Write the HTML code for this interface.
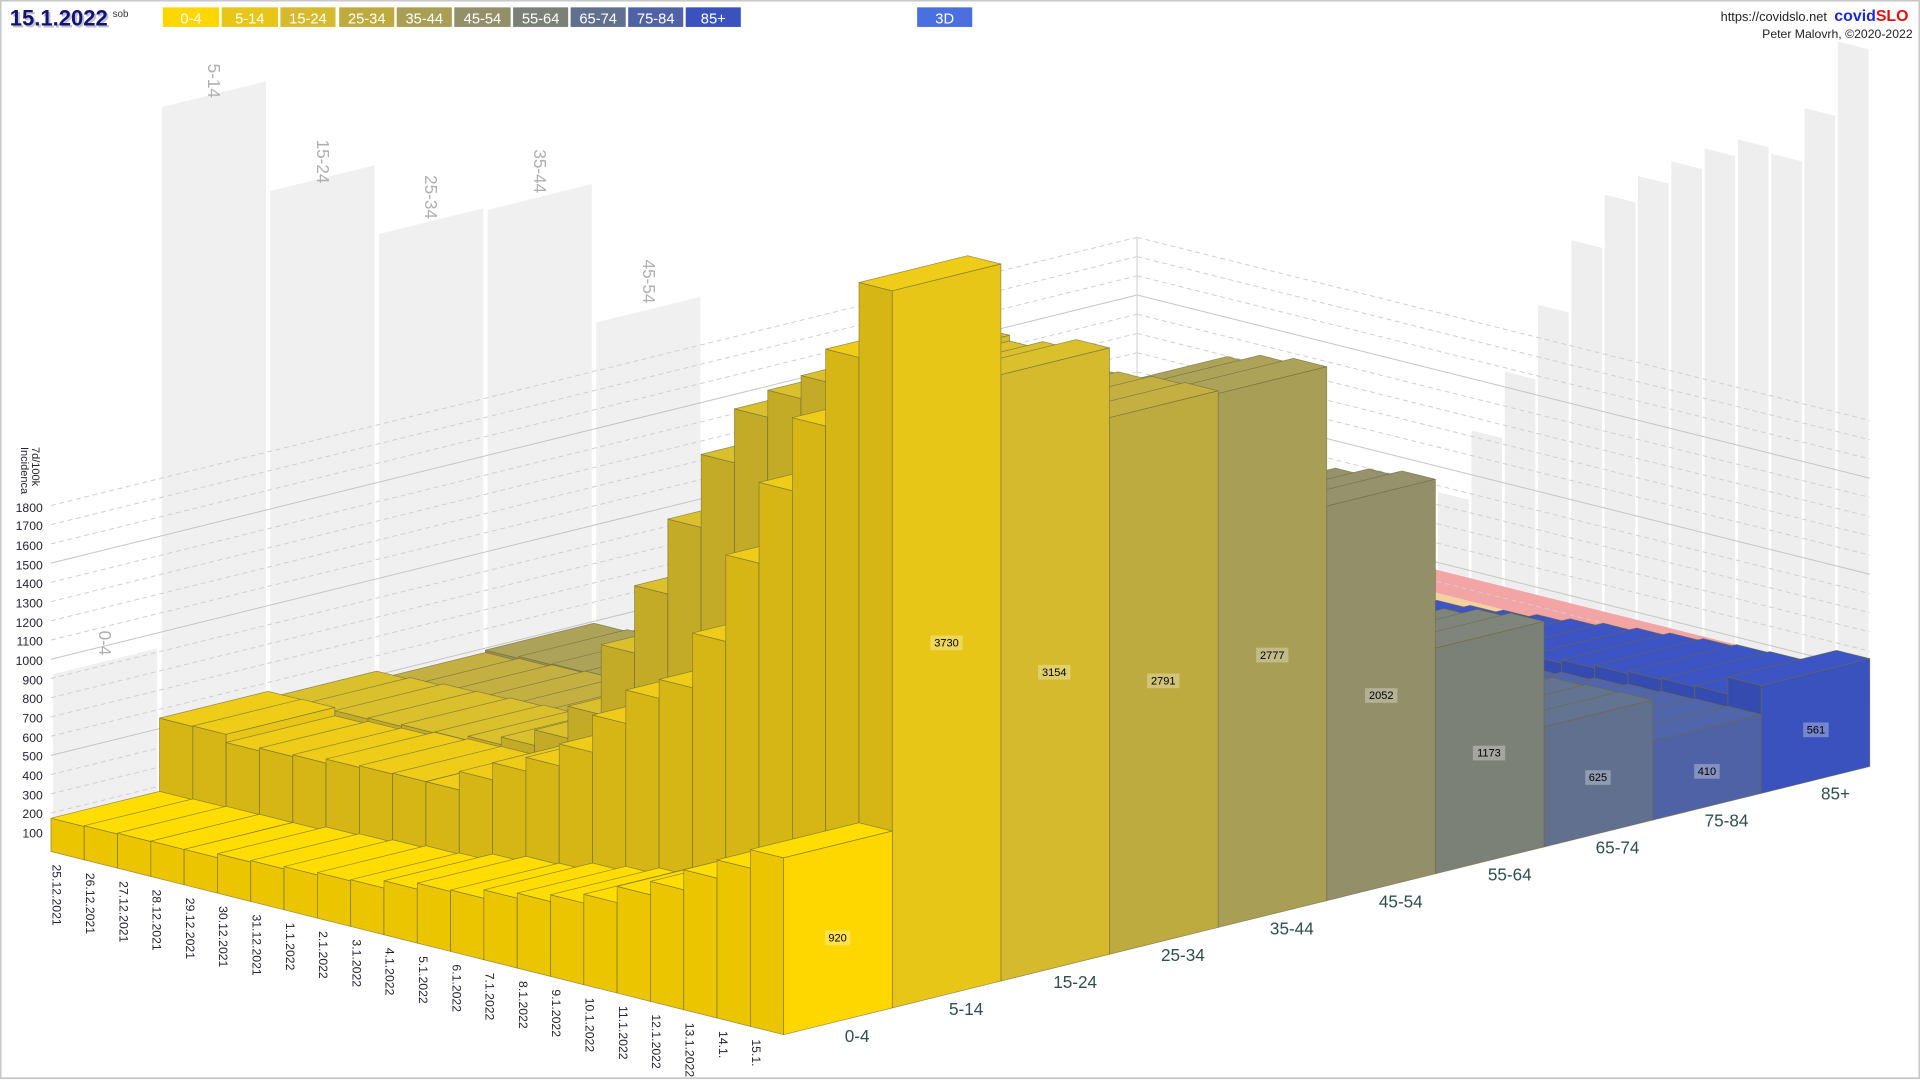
<!DOCTYPE html>
<html><head><meta charset="utf-8"><style>
html,body{margin:0;padding:0;background:#fff;}
svg{display:block;}
text{font-family:"Liberation Sans",sans-serif;}
</style></head><body>
<svg id="s" width="1920" height="1080" viewBox="0 0 1568 882" preserveAspectRatio="none" xmlns="http://www.w3.org/2000/svg">
<rect x="0.5" y="0.5" width="1567" height="880" fill="#fff" stroke="#c8c8c8" stroke-width="1.5"/>
<g id="walls"></g>
<g id="grid"></g>
<g id="bars"></g>
<g id="vals" font-size="9" text-anchor="middle"></g>
<!-- header -->
<text x="8" y="21" font-size="18" font-weight="bold" fill="#c0c0d0" transform="translate(1.5,1.5)">15.1.2022</text>
<text x="8" y="21" font-size="18" font-weight="bold" fill="#141470">15.1.2022</text>
<text x="92" y="14" font-size="8" fill="#333">sob</text>
<g font-size="12" fill="#fff" text-anchor="middle">
<rect x="133" y="6" width="46" height="16" fill="#FFD700"/><text x="156" y="19">0-4</text>
<rect x="181" y="6" width="46" height="16" fill="#E8C617"/><text x="204" y="19">5-14</text>
<rect x="229" y="6" width="45" height="16" fill="#D4BA2C"/><text x="251.5" y="19">15-24</text>
<rect x="277" y="6" width="45" height="16" fill="#BEAB40"/><text x="299.5" y="19">25-34</text>
<rect x="324" y="6" width="45" height="16" fill="#A89E55"/><text x="346.5" y="19">35-44</text>
<rect x="371" y="6" width="46" height="16" fill="#928F69"/><text x="394" y="19">45-54</text>
<rect x="419" y="6" width="45" height="16" fill="#7C8178"/><text x="441.5" y="19">55-64</text>
<rect x="466" y="6" width="45" height="16" fill="#60708E"/><text x="488.5" y="19">65-74</text>
<rect x="513" y="6" width="45" height="16" fill="#4F62A6"/><text x="535.5" y="19">75-84</text>
<rect x="560" y="6" width="45" height="16" fill="#3A52BE"/><text x="582.5" y="19">85+</text>
<rect x="749" y="6" width="45" height="16" fill="#4A6FE0"/><text x="771.5" y="19">3D</text>
</g>
<text x="1492" y="17" font-size="10.5" fill="#222" text-anchor="end">https://covidslo.net</text>
<text x="1498" y="17" font-size="13" font-weight="bold" fill="#1a2ad0">covid<tspan fill="#e01010">SLO</tspan></text>
<text x="1562" y="31" font-size="10" fill="#222" text-anchor="end">Peter Malovrh, ©2020-2022</text>
<!-- y axis -->
<g font-size="10" fill="#223" text-anchor="end">
<text x="35" y="684">100</text><text x="35" y="668">200</text><text x="35" y="653">300</text><text x="35" y="637">400</text><text x="35" y="621">500</text><text x="35" y="606">600</text><text x="35" y="590">700</text><text x="35" y="574">800</text><text x="35" y="559">900</text><text x="35" y="543">1000</text><text x="35" y="527">1100</text><text x="35" y="512">1200</text><text x="35" y="496">1300</text><text x="35" y="480">1400</text><text x="35" y="465">1500</text><text x="35" y="449">1600</text><text x="35" y="433">1700</text><text x="35" y="418">1800</text>
</g>
<text font-size="9" fill="#223" transform="translate(26,365) rotate(90)">7d/100k</text>
<text font-size="9" fill="#223" transform="translate(17,365) rotate(90)">Incidenca</text>
<!-- back wall labels -->
<g font-size="14" fill="#b0b0b0">
<text transform="translate(81,515) rotate(90)">0-4</text>
<text transform="translate(170,52) rotate(90)">5-14</text>
<text transform="translate(259,114) rotate(90)">15-24</text>
<text transform="translate(347,143) rotate(90)">25-34</text>
<text transform="translate(436,122) rotate(90)">35-44</text>
<text transform="translate(525,212) rotate(90)">45-54</text>
</g>
<!-- date labels -->
<g font-size="10" fill="#223">
<text transform="translate(43,706) rotate(90)">25.12.2021</text>
<text transform="translate(70.2,712.8) rotate(90)">26.12.2021</text>
<text transform="translate(97.4,719.6) rotate(90)">27.12.2021</text>
<text transform="translate(124.6,726.4) rotate(90)">28.12.2021</text>
<text transform="translate(151.8,733.2) rotate(90)">29.12.2021</text>
<text transform="translate(179,740) rotate(90)">30.12.2021</text>
<text transform="translate(206.2,746.8) rotate(90)">31.12.2021</text>
<text transform="translate(233.4,753.6) rotate(90)">1.1.2022</text>
<text transform="translate(260.6,760.4) rotate(90)">2.1.2022</text>
<text transform="translate(287.8,767.2) rotate(90)">3.1.2022</text>
<text transform="translate(315,774) rotate(90)">4.1.2022</text>
<text transform="translate(342.2,780.8) rotate(90)">5.1.2022</text>
<text transform="translate(369.4,787.6) rotate(90)">6.1.2022</text>
<text transform="translate(396.6,794.4) rotate(90)">7.1.2022</text>
<text transform="translate(423.8,801.2) rotate(90)">8.1.2022</text>
<text transform="translate(451,808) rotate(90)">9.1.2022</text>
<text transform="translate(478.2,814.8) rotate(90)">10.1.2022</text>
<text transform="translate(505.4,821.6) rotate(90)">11.1.2022</text>
<text transform="translate(532.6,828.4) rotate(90)">12.1.2022</text>
<text transform="translate(559.8,835.2) rotate(90)">13.1.2022</text>
<text transform="translate(587,842) rotate(90)">14.1.</text>
<text transform="translate(614.2,848.8) rotate(90)">15.1.</text>
</g>
<!-- age labels -->
<g font-size="14" fill="#2F4F4F" text-anchor="middle">
<text x="700" y="851">0-4</text>
<text x="789" y="829">5-14</text>
<text x="878" y="807">15-24</text>
<text x="966" y="785">25-34</text>
<text x="1055" y="763">35-44</text>
<text x="1144" y="741">45-54</text>
<text x="1233" y="719">55-64</text>
<text x="1321" y="697">65-74</text>
<text x="1410" y="675">75-84</text>
<text x="1499" y="653">85+</text>
</g>
<script>
(function(){
var NS="http://www.w3.org/2000/svg";
function P(a,d,v){return [640+88.7*a-27.2*d, 845-21.9*a-6.8*d-0.157*v];}
function poly(g,pts,fill,stroke,sw,op){var p=document.createElementNS(NS,"polygon");p.setAttribute("points",pts.map(function(q){return q[0].toFixed(1)+","+q[1].toFixed(1)}).join(" "));p.setAttribute("fill",fill);if(stroke){p.setAttribute("stroke",stroke);p.setAttribute("stroke-width",sw||0.6);p.setAttribute("stroke-linejoin","round");}else p.setAttribute("stroke","none");if(op)p.setAttribute("fill-opacity",op);g.appendChild(p);}
function line(g,a,b,col,dash,w){var l=document.createElementNS(NS,"line");l.setAttribute("x1",a[0]);l.setAttribute("y1",a[1]);l.setAttribute("x2",b[0]);l.setAttribute("y2",b[1]);l.setAttribute("stroke",col);l.setAttribute("stroke-width",w||0.8);if(dash)l.setAttribute("stroke-dasharray",dash);g.appendChild(l);}
function shade(h,f){var r=parseInt(h.substr(1,2),16),g=parseInt(h.substr(3,2),16),b=parseInt(h.substr(5,2),16);function c(x){x=Math.round(x*f);return Math.max(0,Math.min(255,x));}return "rgb("+c(r)+","+c(g)+","+c(b)+")";}
var cols=["#FFD700","#E8C617","#D4BA2C","#BEAB40","#A89E55","#928F69","#7C8178","#60708E","#4F62A6","#3A52BE"];
var V=[];
V[0]=[173,178,182,184,185,205,213,225,237,243,281,312,320,364,390,425,471,555,624,728,823,920];
V[1]=[554,557,514,528,537,558,567,571,571,667,756,827,940,1134,1307,1406,1690,2140,2560,2940,3340,3730];
V[2]=[520,530,540,545,554,560,580,620,700,866,1230,1580,1970,2350,2630,2770,2890,3000,3090,3060,3100,3154];
V[3]=[477,490,500,510,520,530,560,600,680,820,1100,1400,1700,2000,2250,2450,2600,2700,2750,2760,2780,2791];
V[4]=[490,500,505,510,515,520,540,570,630,740,950,1200,1450,1700,1950,2150,2350,2500,2600,2700,2750,2777];
V[5]=[400,410,415,420,425,430,445,470,510,580,720,880,1050,1230,1400,1550,1700,1820,1920,1980,2020,2052];
V[6]=[260,265,270,275,280,285,295,310,330,370,440,520,600,690,780,860,940,1010,1070,1110,1150,1173];
var g5=V[5].map(function(x){return (x-400)/(2052-400);});
V[7]=g5.map(function(g){return 625*(0.5+0.5*g);});
V[8]=g5.map(function(g){return 410*(0.55+0.45*g);});
V[9]=g5.map(function(g,i){return i==21?561:561*(0.5+0.35*g);});
var walls=document.getElementById("walls"),grid=document.getElementById("grid"),bars=document.getElementById("bars"),vals=document.getElementById("vals");
for(var a=0;a<10;a++){var mx=Math.max.apply(null,V[a]);
poly(walls,[P(a+0.02,22,0),P(a+0.98,22,0),P(a+0.98,22,mx),P(a+0.02,22,mx)],"#f0f0f0");}
for(var k=0;k<22;k++){var mx=0;for(var a=0;a<10;a++)mx=Math.max(mx,V[a][k]);
var d0=21-k,d1=22-k;
poly(walls,[P(10,d0+0.04,0),P(10,d1-0.04,0),P(10,d1-0.04,mx),P(10,d0+0.04,mx)],"#eeeeee");}
var bands=[[0,110,"#9cc89c"],[110,205,"#efe898"],[205,340,"#f3cf9c"],[340,460,"#f2a0a0"]];
bands.forEach(function(b){poly(walls,[P(10,0,b[0]),P(10,22,b[0]),P(10,22,b[1]),P(10,0,b[1])],b[2],null,0,0.95);});
for(var v=100;v<=1800;v+=100){var solid=(v%500==0);
line(grid,P(0,22,v),P(10,22,v),solid?"#c4c4c4":"#cfcfcf",solid?null:"4,3",0.8);
line(grid,P(10,22,v),P(10,0,v),solid?"#c4c4c4":"#cfcfcf",solid?null:"4,3",0.8);}
line(grid,P(10,22,0),P(10,22,1800),"#d8d8d8",null,1);
var st="rgba(110,105,60,0.7)";
for(var a=9;a>=0;a--){for(var k=0;k<22;k++){var v=V[a][k],d0=21-k,d1=22-k,c=cols[a];
poly(bars,[P(a,d0,0),P(a,d1,0),P(a,d1,v),P(a,d0,v)],shade(c,0.92),st,0.6);
poly(bars,[P(a,d0,v),P(a+1,d0,v),P(a+1,d1,v),P(a,d1,v)],shade(c,1.03),st,0.6);
poly(bars,[P(a,d0,0),P(a+1,d0,0),P(a+1,d0,v),P(a,d0,v)],c,st,0.6);
}}
var fv=[920,3730,3154,2791,2777,2052,1173,625,410,561];
var ty=[769,528,552,559,538,571,618,638,633,599];
var tx=[684,773,861,950,1039,1128,1216,1305,1394,1483];
for(var a=0;a<10;a++){var t=String(fv[a]);var w=t.length*5.6+4;
var r=document.createElementNS(NS,"rect");r.setAttribute("x",tx[a]-w/2);r.setAttribute("y",ty[a]-9);r.setAttribute("width",w);r.setAttribute("height",12);r.setAttribute("fill","rgba(255,255,255,0.3)");vals.appendChild(r);}
})();
</script>
<g font-size="9" text-anchor="middle" fill="#000">
<text x="684" y="769">920</text>
<text x="773" y="528">3730</text>
<text x="861" y="552">3154</text>
<text x="950" y="559">2791</text>
<text x="1039" y="538">2777</text>
<text x="1128" y="571">2052</text>
<text x="1216" y="618">1173</text>
<text x="1305" y="638">625</text>
<text x="1394" y="633">410</text>
<text x="1483" y="599">561</text>
</g>
</svg>
</body></html>
